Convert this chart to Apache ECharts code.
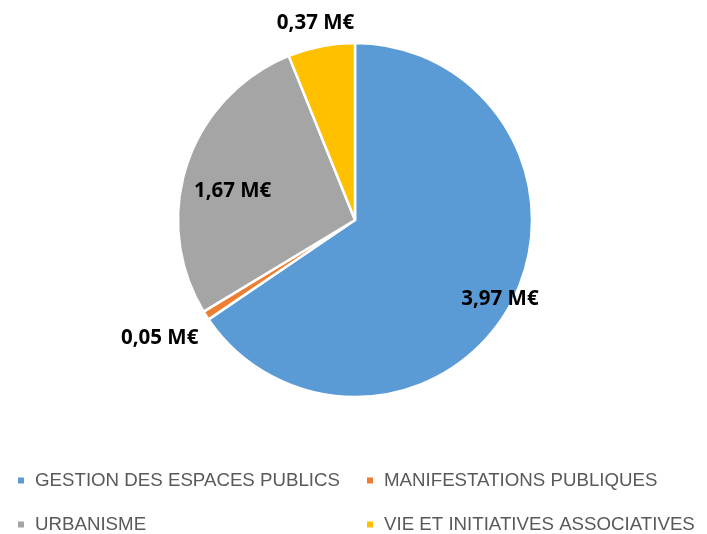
<!DOCTYPE html>
<html><head><meta charset="utf-8">
<script src="https://cdn.jsdelivr.net/npm/echarts@6/dist/echarts.min.js"></script>
<style>html,body{margin:0;padding:0;background:#fff}#c{width:707px;height:534px}</style>
</head><body><div id="c"></div>
<script>
const categories = ['GESTION DES ESPACES PUBLICS','MANIFESTATIONS PUBLIQUES','URBANISME','VIE ET INITIATIVES ASSOCIATIVES'];
const values = [3.97, 0.05, 1.67, 0.37];
const colors = ['#5B9BD5','#ED7D31','#A5A5A5','#FFC000'];
const labelTexts = ['3,97 M€','0,05 M€','1,67 M€','0,37 M€'];

const chart = echarts.init(document.getElementById('c'), null, {renderer:'canvas'});
const R = 177;
const labelFont = {fontFamily:'Open Sans', fontWeight:'bold', fontSize:20.5, color:'#000'};

function labelRing(idx, radius, dy){
  return {
    type:'pie', silent:true, startAngle:90, clockwise:true, center:[355,220],
    radius:[radius-10, radius+10], avoidLabelOverlap:false, animation:false,
    itemStyle:{color:'transparent', borderWidth:0},
    emphasis:{disabled:true},
    labelLine:{show:false},
    labelLayout:{dy:dy},
    data: categories.map((c,i)=>({name:c, value:values[i],
      label:{show:i===idx, position:'inside', formatter:labelTexts[i], ...labelFont}}))
  };
}

const legends = categories.map((c,i)=>({
  data:[{name:c, itemStyle:{color:colors[i]}}],
  left: i%2===0 ? 11 : 360,
  top: i<2 ? 466 : 510,
  icon:'rect', itemWidth:8, itemHeight:8, itemGap:10,
  textStyle:{color:'#595959', fontSize:18.7, fontFamily:'Liberation Sans', padding:[0,0,0,5]},
  selectedMode:false
}));

chart.setOption({
  animation:false,
  legend: legends,
  series:[
    {
      type:'pie', startAngle:90, clockwise:true, center:[355,220], radius:[0,R],
      avoidLabelOverlap:false,
      itemStyle:{borderColor:'#fff', borderWidth:2.5},
      label:{show:false}, labelLine:{show:false},
      emphasis:{disabled:true},
      data: categories.map((c,i)=>({name:c, value:values[i], itemStyle:{color:colors[i]}}))
    },
    labelRing(0,161,2),
    labelRing(2,126,12),
    labelRing(3,204,6),
    labelRing(1,229,-7)
  ]
});
</script></body></html>
